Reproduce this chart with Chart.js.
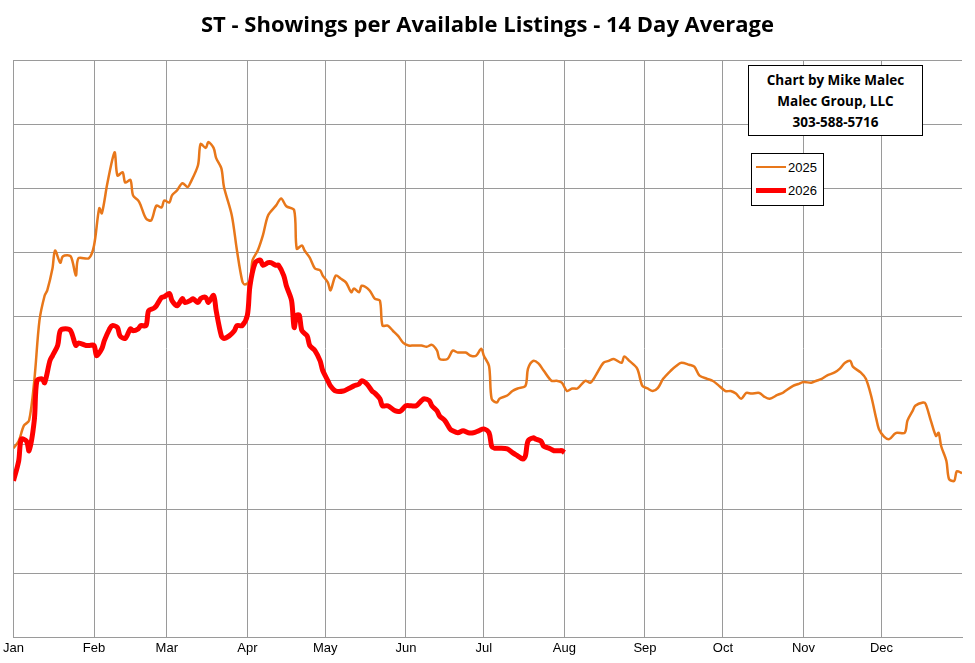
<!DOCTYPE html>
<html>
<head>
<meta charset="utf-8">
<script src="https://cdn.jsdelivr.net/npm/chart.js@4/dist/chart.umd.min.js"></script>
<style>
  body { margin: 0; background: #fff; font-family: "Liberation Sans", Arial, sans-serif; }
  #wrap { position: relative; width: 975px; height: 663px; }
  #title { position: absolute; top: 8px; left: 0; width: 975px; text-align: center;
           font-family: "Open Sans", sans-serif; font-weight: bold; font-size: 22px; }
  .box { position: absolute; background: #fff; border: 1px solid #000; }
  #credit { left: 748px; top: 65px; width: 175px; height: 71px; text-align: center;
            font-family: "Open Sans", sans-serif; font-weight: bold; font-size: 13.5px; line-height: 21px; padding-top: 4px; box-sizing: border-box; }
  #legend { left: 751px; top: 153px; width: 71px; height: 51px; font-size: 13px; }
  .row { display: flex; align-items: center; height: 20px; margin-top: 3px; padding-left: 4px; }
  .sw { width: 30px; margin-right: 2px; }
</style>
</head>
<body>
<div id="wrap">
  <div id="title">ST - Showings per Available Listings - 14 Day Average</div>
  <canvas id="c" width="975" height="663"></canvas>
  <div class="box" id="credit">Chart by Mike Malec<br>Malec Group, LLC<br>303-588-5716</div>
  <div class="box" id="legend">
    <div class="row"><div class="sw" style="border-top:2.5px solid #E8771A"></div>2025</div>
    <div class="row"><div class="sw" style="border-top:5px solid #FF0000"></div>2026</div>
  </div>
</div>
<script>
// day-of-year where each month starts, and its label
const monthDays   = [0, 31, 59, 90, 120, 151, 181, 212, 243, 273, 304, 334];
const monthLabels = ["Jan","Feb","Mar","Apr","May","Jun","Jul","Aug","Sep","Oct","Nov","Dec"];

// 2025 series: day of year / value
const days2025 = [0,2,4,6,8,10,12,13,15,16,18,19,22,24,25,29,31,33,34,36,38,39,40,42,43,45,46,48,49,51,53,55,57,58,60,61,63,65,67,68,71,72,74,75,77,78,80,81,84,86,88,89,91,92,94,96,98,101,103,105,108,109,111,112,114,116,118,119,121,122,124,126,128,130,131,133,134,137,139,141,142,144,146,148,150,152,154,157,159,161,163,164,167,169,171,174,176,178,180,181,183,184,186,187,190,192,194,197,198,200,202,204,207,209,211,213,215,217,220,222,224,227,229,231,234,235,237,240,242,244,246,248,250,253,255,257,260,262,264,267,269,271,274,276,278,280,282,284,287,289,291,294,296,297,300,302,304,307,309,311,313,316,318,320,322,323,326,328,330,332,333,335,337,339,340,343,344,346,347,350,351,353,355,356,357,359,360,362,363,365];
const vals2025 = [2.95,3.06,3.30,3.38,4.00,4.94,5.33,5.41,5.75,6.03,5.84,5.94,5.94,5.64,5.91,5.91,6.11,6.69,6.61,7.05,7.44,7.56,7.20,7.25,7.09,7.13,6.89,6.81,6.73,6.53,6.50,6.73,6.70,6.81,6.78,6.89,6.97,7.08,7.02,7.08,7.36,7.69,7.63,7.72,7.63,7.47,7.31,7.02,6.58,6.03,5.56,5.50,5.56,5.88,6.03,6.27,6.58,6.73,6.84,6.72,6.66,6.06,6.11,6.03,5.92,5.75,5.72,5.64,5.53,5.41,5.64,5.59,5.53,5.38,5.44,5.38,5.48,5.41,5.28,5.25,4.86,4.86,4.78,4.70,4.59,4.55,4.55,4.55,4.53,4.56,4.47,4.34,4.34,4.47,4.44,4.44,4.39,4.39,4.50,4.39,4.23,3.72,3.66,3.72,3.77,3.84,3.88,3.92,4.19,4.31,4.27,4.16,4.00,4.00,3.97,3.84,3.88,3.88,4.00,3.97,4.08,4.28,4.31,4.34,4.28,4.38,4.31,4.19,3.92,3.88,3.84,3.89,4.03,4.16,4.23,4.28,4.25,4.22,4.08,4.03,4.00,3.94,3.84,3.84,3.80,3.72,3.81,3.80,3.81,3.75,3.72,3.78,3.81,3.84,3.92,3.95,3.98,3.97,4.00,4.03,4.08,4.13,4.19,4.28,4.31,4.22,4.13,4.03,3.77,3.41,3.25,3.13,3.09,3.17,3.19,3.19,3.38,3.53,3.61,3.66,3.64,3.38,3.14,3.19,2.98,2.75,2.47,2.44,2.59,2.56];

// 2026 series (year to date)
const days2026 = [0,2,3,5,6,8,9,11,12,14,15,17,18,20,22,24,25,28,29,31,32,34,35,37,38,40,41,43,45,46,48,49,51,52,54,55,57,58,60,61,63,65,66,68,69,71,72,74,75,77,78,80,81,83,85,86,88,90,91,93,95,96,98,99,101,102,104,105,107,108,109,110,111,113,114,116,118,119,121,122,124,127,129,131,133,134,136,138,139,141,142,144,147,149,151,153,155,157,158,160,161,163,164,166,168,169,171,173,175,177,179,181,183,184,185,187,190,192,194,196,197,198,200,201,203,204,206,208,210,211,212];
const vals2026 = [2.44,2.75,3.09,3.06,2.91,3.38,4.00,4.03,3.97,4.31,4.39,4.55,4.78,4.81,4.78,4.55,4.59,4.55,4.55,4.55,4.39,4.50,4.63,4.81,4.86,4.83,4.70,4.66,4.81,4.78,4.81,4.86,4.86,5.09,5.13,5.17,5.30,5.31,5.36,5.25,5.17,5.28,5.22,5.25,5.28,5.22,5.28,5.30,5.22,5.33,5.09,4.70,4.66,4.70,4.78,4.86,4.86,5.02,5.48,5.84,5.88,5.80,5.84,5.84,5.80,5.80,5.64,5.48,5.25,4.83,5.02,5.02,4.78,4.70,4.55,4.47,4.31,4.16,4.00,3.92,3.84,3.84,3.88,3.92,3.95,4.00,3.95,3.84,3.81,3.72,3.61,3.61,3.53,3.53,3.61,3.61,3.61,3.69,3.72,3.69,3.61,3.53,3.45,3.38,3.25,3.22,3.19,3.22,3.19,3.19,3.22,3.25,3.19,2.98,2.95,2.95,2.94,2.88,2.83,2.78,2.83,3.06,3.11,3.09,3.06,2.98,2.95,2.91,2.91,2.91,2.88];

const toPoints = (d, v) => d.map((x, i) => ({ x: x, y: v[i] }));

new Chart(document.getElementById("c"), {
  type: "line",
  data: {
    datasets: [
      { label: "2026", data: toPoints(days2026, vals2026), borderColor: "#FF0000",
        borderWidth: 5, pointRadius: 0, tension: 0.3 },
      { label: "2025", data: toPoints(days2025, vals2025), borderColor: "#E8771A",
        borderWidth: 2.5, pointRadius: 0, tension: 0.3 }
    ]
  },
  options: {
    responsive: false,
    animation: false,
    layout: { padding: { left: 12, right: 13, top: 60, bottom: 4 } },
    plugins: { legend: { display: false }, tooltip: { enabled: false } },
    scales: {
      x: {
        type: "linear", min: 0, max: 365,
        afterBuildTicks: axis => { axis.ticks = monthDays.map(v => ({ value: v })); },
        ticks: {
          color: "#000", font: { family: "Liberation Sans", size: 13 }, maxRotation: 0,
          autoSkip: false, callback: v => monthLabels[monthDays.indexOf(v)]
        },
        grid: { color: "#9a9a9a", drawTicks: false },
        border: { color: "#9a9a9a" }
      },
      y: {
        min: 0, max: 9,
        ticks: { display: false, stepSize: 1 },
        grid: { color: "#9a9a9a", drawTicks: false },
        border: { color: "#9a9a9a" }
      }
    }
  }
});
</script>
</body>
</html>
